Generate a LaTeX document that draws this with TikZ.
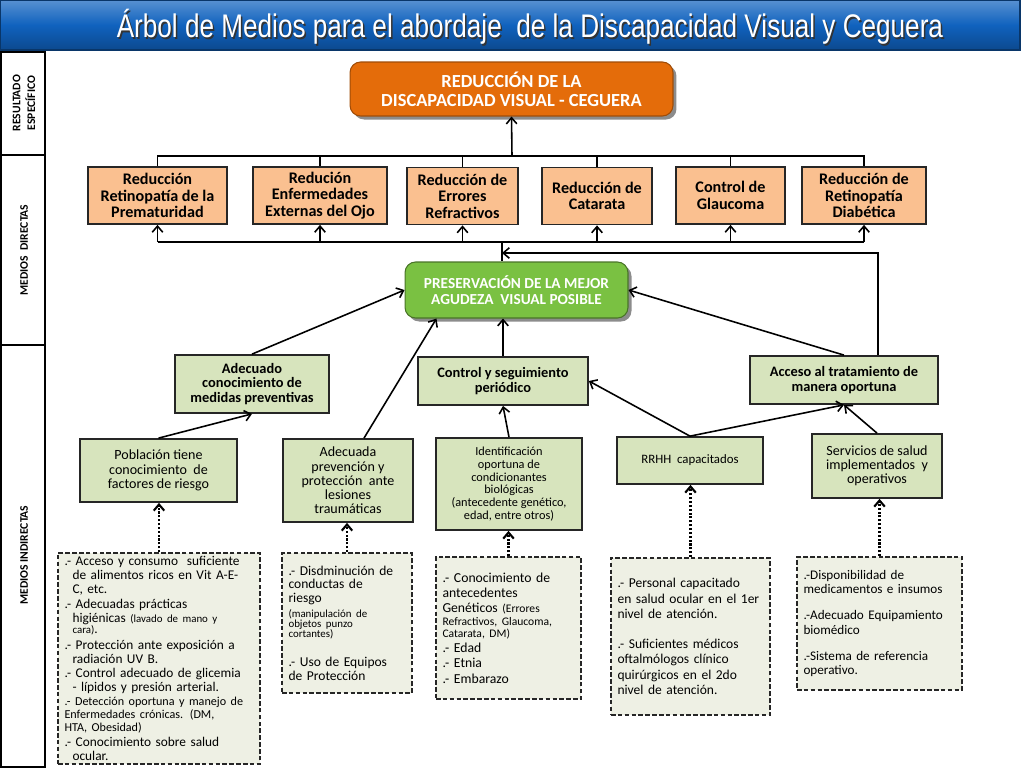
\documentclass[tikz,border=0pt]{standalone}
\usepackage{fontspec}
\setmainfont{Carlito}
\newfontfamily\titlefont[FakeStretch=0.8]{Liberation Sans}
\usetikzlibrary{positioning,arrows.meta,shadows}
\definecolor{barblue}{RGB}{16,98,190}
\definecolor{naranja}{RGB}{228,108,10}
\definecolor{salmon}{RGB}{250,192,144}
\definecolor{verde}{RGB}{122,193,66}
\definecolor{verdeclaro}{RGB}{215,228,189}
\definecolor{grisverde}{RGB}{238,240,228}
\newcommand{\hind}{\hspace*{0.6em}}
\newcommand{\chica}{\fontsize{6.2}{7}\selectfont}
\newcommand{\media}{\fontsize{6.9}{7.5}\selectfont}

\begin{document}
\begin{tikzpicture}[x=0.02cm,y=-0.02cm,>={Straight Barb[length=3.5pt,width=6pt]}]
  \useasboundingbox (0,0) rectangle (1024,768);

  % title bar
  \shade[top color=barblue!70!white, bottom color=barblue!75!black, middle color=barblue] (0,0) rectangle (1020,50);
  \draw[barblue!55!black, line width=0.6pt] (0,0) rectangle (1020,50);
  \node[text=black!80] (titleshadow) at (531.5,28.5) {\titlefont\fontsize{18.6}{21}\selectfont Árbol de Medios para el abordaje~ de la Discapacidad Visual y Ceguera};
  \node[text=white] (title) at (530,27) {\titlefont\fontsize{18.6}{21}\selectfont Árbol de Medios para el abordaje~ de la Discapacidad Visual y Ceguera};

  % left column
  \draw[line width=1pt] (1,52) rectangle (45,767);
  \draw[line width=1pt] (1,155) -- (45,155) (1,345) -- (45,345);
  \begin{scope}[every node/.style={rotate=90, align=center, font=\bfseries\fontsize{6.6}{8.5}\selectfont}]
    \node (res) at (24,103) {RESULTADO\\ESPECÍFICO};
    \node (dir) at (24,250) {MEDIOS~~DIRECTAS};
    \node (ind) at (24,555) {MEDIOS INDIRECTAS};
  \end{scope}

  % top result and main mean
  \begin{scope}[every node/.style={rounded corners=6pt, align=center, text=white, line width=0.6pt,
      drop shadow={opacity=0.9, shadow xshift=2pt, shadow yshift=-2pt}}]
    \node[fill=naranja, draw=naranja!70!black, minimum width=6.46cm, minimum height=1.08cm,
      font=\bfseries\fontsize{10.5}{10.8}\selectfont] (r) at (511.5,89) {REDUCCIÓN DE LA\\DISCAPACIDAD VISUAL - CEGUERA};
    \node[fill=verde, draw=verde!60!black, minimum width=4.46cm, minimum height=1.12cm,
      font=\bfseries\fontsize{8.7}{8.7}\selectfont] (p) at (516.5,290) {PRESERVACIÓN DE LA MEJOR\\AGUDEZA~ VISUAL POSIBLE};
  \end{scope}

  % direct means
  \begin{scope}[every node/.style={rectangle, draw=black!85, line width=1pt, fill=salmon, align=center,
      inner sep=1pt, minimum height=1.14cm, font=\bfseries\fontsize{9.2}{9.4}\selectfont}]
    \node[minimum width=2.78cm] (o1) at (157.5,195.5) {Reducción\\Retinopatía de la\\Prematuridad};
    \node[minimum width=2.68cm] (o2) at (320,195.5)   {Redución\\Enfermedades\\Externas del Ojo};
    \node[minimum width=2.22cm] (o3) at (462.5,196)   {Reducción de\\Errores\\Refractivos};
    \node[minimum width=2.20cm] (o4) at (597,196)     {Reducción de\\Catarata};
    \node[minimum width=2.18cm] (o5) at (730.5,195.5) {Control de\\Glaucoma};
    \node[minimum width=2.48cm] (o6) at (864,195.5)   {Reducción de\\Retinopatía\\Diabética};
  \end{scope}

  % indirect means
  \begin{scope}[every node/.style={rectangle, draw=black!85, line width=1pt, fill=verdeclaro, align=center, inner sep=1pt}]
    \begin{scope}[every node/.append style={font=\bfseries\fontsize{8.2}{8.4}\selectfont}]
      \node[minimum width=3.08cm, minimum height=1.16cm] (a) at (252,384) {Adecuado\\conocimiento de\\medidas preventivas};
      \node[minimum width=3.40cm, minimum height=0.96cm] (b) at (503,381) {Control y seguimiento\\periódico};
      \node[minimum width=3.76cm, minimum height=0.96cm] (c) at (844,380) {Acceso al tratamiento de\\manera oportuna};
    \end{scope}
    \begin{scope}[every node/.append style={font=\fontsize{8}{8.1}\selectfont}]
      \node[minimum width=3.14cm, minimum height=1.26cm] (d) at (158.5,470.5) {Población tiene\\conocimiento~ de\\factores de riesgo};
      \node[minimum width=2.60cm, minimum height=1.66cm] (e) at (348,480.5) {Adecuada\\prevención y\\protección~ ante\\lesiones\\traumáticas};
      \node[minimum width=2.92cm, minimum height=1.84cm, font=\fontsize{7}{7.2}\selectfont] (f) at (509,484)
        {Identificación\\oportuna de\\condicionantes\\biológicas\\(antecedente genético,\\edad, entre otros)};
      \node[minimum width=2.92cm, minimum height=0.94cm, font=\fontsize{7.3}{8}\selectfont] (g) at (690,460.5) {RRHH~ capacitados};
      \node[minimum width=2.60cm, minimum height=1.28cm] (h) at (877,466) {Servicios de salud\\implementados~ y\\operativos};
    \end{scope}
  \end{scope}

  % actions
  \begin{scope}[every node/.style={rectangle, draw=black!85, line width=1pt, dash pattern=on 2.6pt off 1.3pt,
      fill=grisverde, align=left, inner xsep=0.13cm, inner ysep=1pt}]
    \node[text width=3.78cm, minimum height=4.22cm, font=\fontsize{7.6}{7.9}\selectfont] (i) at (159,658.5)
      {.- Acceso y consumo~ suficiente\\
       \hind de alimentos ricos en Vit A-E-\\
       \hind C, etc.\\[0.6pt]
       .- Adecuadas prácticas\\
       \hind higiénicas {\chica(lavado de mano y}\\[-1.5pt]
       \hind{\chica cara)}.\\[1.5pt]
       .- Protección ante exposición a\\
       \hind radiación UV B.\\
       .- Control adecuado de glicemia\\
       \hind - lípidos y presión arterial.\\
       {\media .- Detección oportuna y manejo de}\\[-0.6pt]
       {\media Enfermedades crónicas. (DM,}\\[-0.6pt]
       {\media HTA, Obesidad)}\\[1pt]
       .- Conocimiento sobre salud\\
       \hind ocular.};
    \node[text width=2.34cm, minimum height=2.80cm, font=\fontsize{7.7}{7.7}\selectfont] (j) at (347,623)
      {.- Disdminución de\\
       conductas de\\
       riesgo\\[0.8pt]
       {\chica (manipulación de}\\[-2pt]
       {\chica objetos punzo}\\[-2pt]
       {\chica cortantes)}\\[9pt]
       .- Uso de Equipos\\
       de Protección};
    \node[text width=2.64cm, minimum height=2.84cm, font=\fontsize{7.8}{8.8}\selectfont] (k) at (508.5,628)
      {.- Conocimiento de\\
       antecedentes\\
       Genéticos {\fontsize{6.6}{7}\selectfont(Errores}\\[-1.7pt]
       {\fontsize{6.6}{7}\selectfont Refractivos, Glaucoma,}\\[-1.7pt]
       {\fontsize{6.6}{7}\selectfont Catarata, DM)}\\[-0.5pt]
       .- Edad\\
       .- Etnia\\
       .- Embarazo};
    \node[text width=2.92cm, minimum height=3.14cm, font=\fontsize{7.7}{8.8}\selectfont] (l) at (690.5,636.5)
      {.- Personal capacitado\\
       en salud ocular en el 1er\\
       nivel de atención.\\[8pt]
       .- Suficientes médicos\\
       oftalmólogos clínico\\
       quirúrgicos en el 2do\\
       nivel de atención.};
    \node[text width=3.04cm, minimum height=2.66cm, font=\fontsize{7.5}{8.1}\selectfont] (m) at (879.5,623.5)
      {.-Disponibilidad de\\
       medicamentos e insumos\\[7pt]
       .-Adecuado Equipamiento\\
       biomédico\\[7pt]
       .-Sistema de referencia\\
       operativo.};
  \end{scope}

  % buses
  \coordinate (bus1) at (512,156);
  \coordinate (bus2) at (502,242);
  \coordinate (bus3) at (878,253);
  \begin{scope}[line width=0.9pt]
    \draw (o1.north) |- (bus1) -| (o6.north);
    \draw (o2.north) -- (o2.north |- bus1);
    \draw (o3.north) -- (o3.north |- bus1);
    \draw (o4.north) -- (o4.north |- bus1);
    \draw (o5.north) -- (o5.north |- bus1);
    \draw[->] (bus1) -- (r.south);
    \draw (o1.south |- bus2) -- (o6.south |- bus2);
    \draw (bus2) -- (bus2 |- p.north);
    \draw[->] (c.north -| bus3) |- (bus2 |- bus3);
  \end{scope}

  \begin{scope}[every edge/.style={draw, line width=0.9pt, ->}]
    \path (o1.south |- bus2) edge (o1.south);
    \path (o2.south |- bus2) edge (o2.south);
    \path (o3.south |- bus2) edge (o3.south);
    \path (o4.south |- bus2) edge (o4.south);
    \path (o5.south |- bus2) edge (o5.south);
    \path (o6.south |- bus2) edge (o6.south);
    \path (a.north) edge (p.west);
    \path ([xshift=0.32cm]e.north) edge ([xshift=0.64cm]p.south west);
    \path (b.north) edge (b.north |- p.south);
    \path (c.north) edge (p.east);
    \path (d.north) edge (a.south);
    \path (f.north) edge (b.south);
    \path (g.north) edge (b.east);
    \path (g.north) edge (c.south);
    \path (h.north) edge (c.south);
  \end{scope}

  \begin{scope}[every edge/.style={draw, line width=1.2pt, densely dotted, ->}]
    \path (i.north) edge (i.north |- d.south);
    \path (j.north) edge (j.north |- e.south);
    \path (k.north) edge (k.north |- f.south);
    \path (l.north) edge (l.north |- g.south);
    \path (m.north) edge (m.north |- h.south);
  \end{scope}

\end{tikzpicture}
\end{document}
